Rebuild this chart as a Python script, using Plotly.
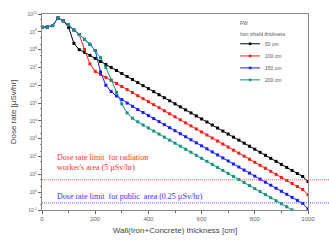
import numpy as np
import plotly.graph_objects as go

# Wall thickness [cm]
thickness_cm = list(range(0, 1001, 20))

# log10 of dose rate [uSv/hr], per iron shield thickness
log_dose_50 = [9.25, 9.27, 9.35, 9.77, 9.62, 9.25, 8.35, 8.00, 7.85, 7.68,
               7.51, 7.34, 7.17, 7.00, 6.83, 6.66, 6.49, 6.32, 6.15, 5.98,
               5.81, 5.64, 5.47, 5.30, 5.13, 4.96, 4.79, 4.62, 4.45, 4.28,
               4.11, 3.94, 3.77, 3.60, 3.43, 3.26, 3.09, 2.92, 2.75, 2.58,
               2.41, 2.24, 2.07, 1.90, 1.73, 1.56, 1.39, 1.22, 1.05, 0.88, 0.60]
log_dose_100 = [9.25, 9.27, 9.35, 9.77, 9.62, 9.38, 9.10, 8.85, 8.00, 7.20,
                6.78, 6.61, 6.44, 6.27, 6.10, 5.93, 5.76, 5.59, 5.42, 5.25,
                5.08, 4.91, 4.74, 4.57, 4.40, 4.23, 4.06, 3.89, 3.72, 3.55,
                3.38, 3.21, 3.04, 2.87, 2.70, 2.53, 2.36, 2.19, 2.02, 1.85,
                1.68, 1.51, 1.34, 1.17, 1.00, 0.83, 0.66, 0.49, 0.32, 0.15, -0.15]
log_dose_150 = [9.25, 9.27, 9.35, 9.77, 9.62, 9.38, 9.10, 8.85, 8.58, 8.30,
                7.95, 6.75, 6.00, 5.65, 5.40, 5.20, 5.00, 4.82, 4.64, 4.47,
                4.30, 4.13, 3.96, 3.79, 3.62, 3.45, 3.28, 3.11, 2.94, 2.77,
                2.60, 2.43, 2.26, 2.09, 1.92, 1.75, 1.58, 1.41, 1.24, 1.07,
                0.90, 0.73, 0.56, 0.39, 0.22, 0.05, -0.12, -0.29, -0.46, -0.63, -0.95]
log_dose_200 = [9.25, 9.27, 9.35, 9.77, 9.62, 9.38, 9.10, 8.85, 8.58, 8.30,
                7.95, 7.55, 7.00, 6.30, 5.60, 4.95, 4.45, 4.15, 3.95, 3.77,
                3.60, 3.43, 3.26, 3.09, 2.92, 2.75, 2.58, 2.41, 2.24, 2.07,
                1.90, 1.73, 1.56, 1.39, 1.22, 1.05, 0.88, 0.71, 0.54, 0.37,
                0.20, 0.03, -0.14, -0.31, -0.48, -0.65, -0.82, -0.99, -1.16, -1.33, -1.70]

series_names = ["50 cm", "100 cm", "150 cm", "200 cm"]
series_colors = ["#000000", "#ff1a1a", "#1a1aff", "#16927f"]
series_logs = [log_dose_50, log_dose_100, log_dose_150, log_dose_200]

worker_limit = 5.0     # uSv/hr
public_limit = 0.25    # uSv/hr

x_ticks = [0, 200, 400, 600, 800, 1000]
y_exponents = list(range(-1, 11))

fig = go.Figure()
for name, color, logs in zip(series_names, series_colors, series_logs):
    fig.add_trace(go.Scatter(
        x=thickness_cm, y=np.power(10.0, logs), name=name, mode="lines+markers",
        line=dict(color=color, width=1),
        marker=dict(color=color, size=3, symbol="square"),
        showlegend=False, cliponaxis=True))

# limit lines
fig.add_shape(type="line", xref="paper", yref="y", x0=0, x1=1.09,
              y0=worker_limit, y1=worker_limit,
              line=dict(color="#ff5a5a", width=1, dash="1px,1px"))
fig.add_shape(type="line", xref="paper", yref="y", x0=0, x1=1.09,
              y0=public_limit, y1=public_limit,
              line=dict(color="#5a5aff", width=1, dash="1px,1px"))

fig.add_annotation(xref="paper", yref="paper", x=0.048, y=0.24,
                   text="Dose rate limit  for radiation<br>worker's area (5 µSv/hr)",
                   showarrow=False, xanchor="left", yanchor="middle", align="left",
                   font=dict(family="Liberation Serif", size=8, color="#ff3030"))
fig.add_annotation(xref="paper", yref="paper", x=0.048, y=0.068,
                   text="Dose rate limit  for public  area (0.25 µSv/hr)",
                   showarrow=False, xanchor="left", yanchor="middle",
                   font=dict(family="Liberation Serif", size=8, color="#3030ff"))

# manual legend (compact, as in the reference)
lx0, lx1, ltx = 0.745, 0.82, 0.832
legend_y = [0.848, 0.786, 0.725, 0.664]
fig.add_annotation(xref="paper", yref="paper", x=0.738, y=0.955, text="FW",
                   showarrow=False, xanchor="left", yanchor="middle",
                   font=dict(family="Liberation Sans", size=5, color="#555"))
fig.add_annotation(xref="paper", yref="paper", x=0.738, y=0.898,
                   text="Iron shield thickness",
                   showarrow=False, xanchor="left", yanchor="middle",
                   font=dict(family="Liberation Sans", size=5, color="#555"))
for name, color, ly in zip(series_names, series_colors, legend_y):
    fig.add_shape(type="line", xref="paper", yref="paper", x0=lx0, x1=lx1,
                  y0=ly, y1=ly, line=dict(color=color, width=1))
    fig.add_shape(type="rect", xref="paper", yref="paper",
                  x0=(lx0 + lx1) / 2 - 0.004, x1=(lx0 + lx1) / 2 + 0.004,
                  y0=ly - 0.005, y1=ly + 0.005,
                  line=dict(color=color, width=0.5), fillcolor=color)
    fig.add_annotation(xref="paper", yref="paper", x=ltx, y=ly, text=name,
                       showarrow=False, xanchor="left", yanchor="middle",
                       font=dict(family="Liberation Sans", size=5, color="#555"))

fig.update_layout(
    width=329, height=250,
    margin=dict(l=42, r=21, t=14, b=40),
    paper_bgcolor="white", plot_bgcolor="white",
    showlegend=False,
    font=dict(family="Liberation Sans", color="#444"),
)
fig.update_xaxes(
    range=[0, 1000], tickvals=x_ticks, ticktext=[str(v) for v in x_ticks],
    ticks="outside", ticklen=3, tickcolor="#666", tickfont=dict(size=6, color="#666"),
    minor=dict(dtick=100, ticks="outside", ticklen=2, tickcolor="#666"),
    showline=True, linecolor="#888", linewidth=1, mirror=True, showgrid=False, zeroline=False,
    title=dict(text="Wall(Iron+Concrete) thickness [cm]", standoff=6,
               font=dict(size=8, color="#444")),
)
fig.update_yaxes(
    type="log", range=[-1, 10],
    tickvals=[10.0 ** e for e in y_exponents],
    ticktext=["10<sup>%d</sup>" % e for e in y_exponents],
    ticks="outside", ticklen=3, tickcolor="#666", tickfont=dict(size=5, color="#666"),
    minor=dict(ticks="outside", ticklen=1.5, tickcolor="#888"),
    showline=True, linecolor="#888", linewidth=1, mirror=True, showgrid=False, zeroline=False,
    title=dict(text="Dose rate [µSv/hr]", standoff=9, font=dict(size=8, color="#444")),
)

fig.write_html("out.html")
